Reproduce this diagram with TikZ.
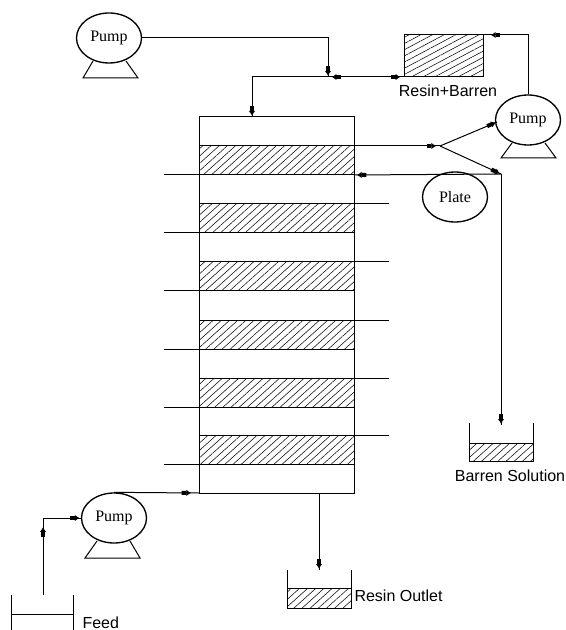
\documentclass[tikz,border=0pt]{standalone}
\usepackage{fontspec}
\setmainfont{Liberation Serif}
\newfontfamily\labelfont{Liberation Sans}
\usetikzlibrary{arrows.meta,decorations.markings,patterns.meta,shapes.geometric}
\tikzset{
    flowhead/.tip={Square[length=3.5pt,width=3pt]Latex[length=3.5pt,width=5pt]},
    flow/.style={postaction={decorate,decoration={markings,mark=at position #1 with {\arrow{flowhead}}}}},
    pump/.style={draw, ellipse, line width=1pt, minimum width=48.75pt, minimum height=37.5pt, inner sep=0pt, font=\fontsize{12}{14}\selectfont},
    lbl/.style={font=\labelfont\fontsize{12}{14}\selectfont, inner sep=0pt},
    hatch/.style={draw, pattern={Lines[angle=42,distance=4.1pt,line width=0.4pt]}}
}
\begin{document}
\begin{tikzpicture}[x=0.75pt, y=-0.75pt, line width=0.75pt]
    \useasboundingbox (0,0) rectangle (565,630);

    % Column
    \draw (199,117) rectangle (354,493);
    \foreach \y in {146,204,261.6,320,378,435} {
        \draw[hatch] (199,\y) rectangle (354,\y+29);
    }
    \foreach \y in {204,262,320,378,435} {
        \draw (354,\y) -- (389,\y);
    }
    \foreach \y in {175,233,290.6,349,407,464} {
        \draw (164,\y) -- (199,\y);
    }

    % Pumps and plate
    \node[pump] (pumpa) at (109,38) {Pump};
    \node[pump] (pumpb) at (528,120) {Pump};
    \node[pump] (pumpc) at (114,518) {Pump};
    \node[pump] (plate) at (455,197) {Plate};
    \draw (93,61) -- (83,78) -- (138,78) -- (126,61);
    \draw (512,143) -- (501,158) -- (556,158) -- (545,143);
    \draw (97,541) -- (85,558) -- (140,558) -- (130,541);

    % Resin box
    \draw[pattern={Lines[angle=28,distance=4.1pt,line width=0.4pt]}] (404,35) rectangle (483,77);
    \node[lbl] (resin) at (448,91) {Resin+Barren};
    \coordinate (boxin) at (483,35);
    \coordinate (boxout) at (404,77);

    % Tanks
    \draw[hatch] (287,588) rectangle (351,608);
    \draw (287,570) -- (287,608);
    \draw (351,570) -- (351,608);
    \node[lbl, anchor=west] (outlet) at (354,596) {Resin Outlet};
    \draw[hatch] (469,443) rectangle (533,461);
    \draw (469,423) -- (469,461);
    \draw (533,423) -- (533,461);
    \node[lbl] (barren) at (510,476) {Barren Solution};
    \draw (11,595) -- (11,630);
    \draw (73,595) -- (73,630);
    \draw (11,614) -- (73,614);
    \node[lbl, anchor=west] (feed) at (82,622.5) {Feed};

    \coordinate (jointa) at (328,77);
    \coordinate (jointb) at (252,77);
    \coordinate (colin) at (252,117);
    \coordinate (colright) at (354,146);
    \coordinate (colplate) at (354,175);
    \coordinate (split) at (440,146);
    \coordinate (elbow) at (501,174);
    \coordinate (tanktop) at (501,425);
    \coordinate (colout) at (319,493);
    \coordinate (outtop) at (319,570);
    \coordinate (colfeed) at (199,493);
    \coordinate (feedtop) at (43,595);
    \coordinate (feedbend) at (43,518);
    \coordinate (pumpin) at (497,122);

    % Connectors
    \draw[flow=-1pt] (pumpa.east) -| (jointa);
    \draw[flow=0.95] (boxout) -- (jointa);
    \draw[flow=0.95] (jointa) -- (boxout);
    \draw (jointa) -- (jointb);
    \draw[flow=-1pt] (jointb) -- (colin);
    \draw[flow=-6pt] (pumpb.north) |- (boxin);
    \draw[flow=-3pt] (colright) -- (split);
    \draw[flow=-1pt] (split) -- (pumpin);
    \draw[flow=-1pt] (split) -- (elbow);
    \draw[flow=-1pt] (elbow) -- (tanktop);
    \draw[flow=0.98] (elbow) -- (colplate);
    \draw[flow=-1pt] (colout) -- (outtop);
    \draw[flow=-6pt] (pumpc.north) -- (colfeed);
    \draw[flow=0.88] (feedtop) -- (feedbend);
    \draw[flow=-1pt] (feedbend) -- (pumpc.west);
\end{tikzpicture}
\end{document}
